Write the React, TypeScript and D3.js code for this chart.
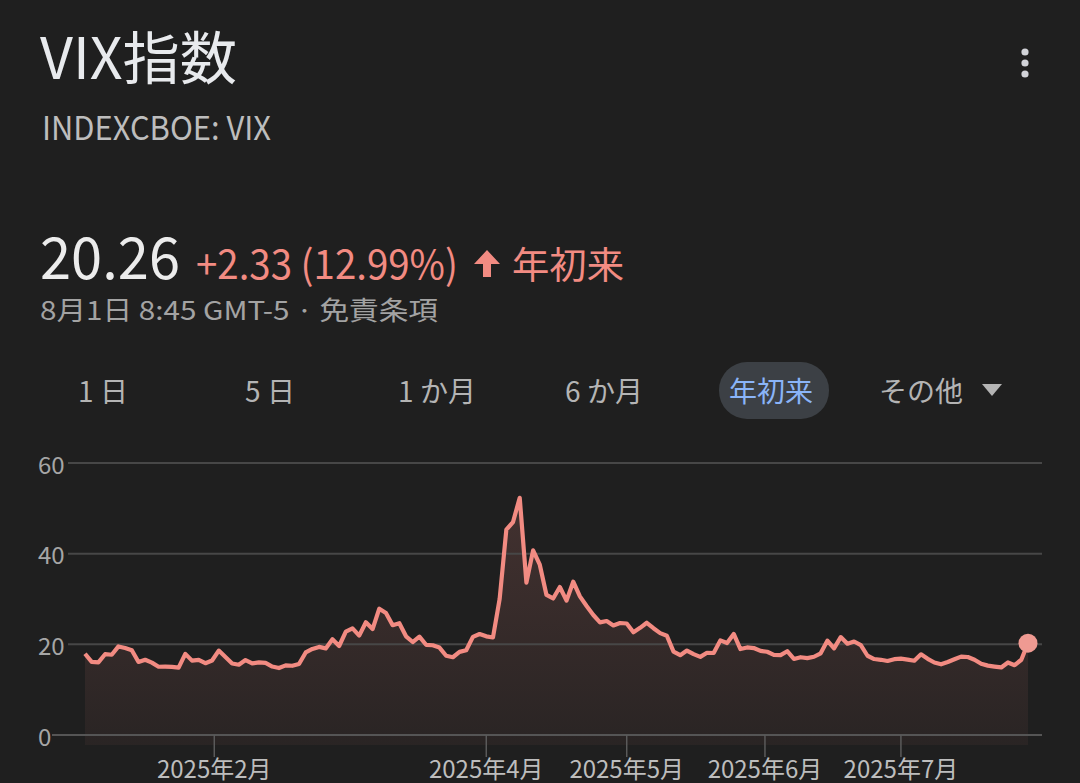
import * as d3 from 'd3';

// VIX daily closes, 2025 YTD
const janValues = [17.93, 16.13, 16.04, 17.82, 17.7, 19.54, 19.19, 18.71, 16.12, 16.6, 15.97, 15.06, 15.1, 15.02, 14.85, 17.9, 16.41, 16.56, 15.84, 16.43];
const febValues = [18.62, 17.21, 15.77, 15.5, 16.54, 15.81, 16.02, 15.89, 15.1, 14.77, 15.35, 15.27, 15.66, 18.21, 18.98, 19.43, 19.1, 21.13, 19.63];
const marValues = [22.78, 23.51, 21.93, 24.87, 23.37, 27.86, 26.92, 24.23, 24.66, 21.77, 20.51, 21.7, 19.9, 19.8, 19.28, 17.48, 17.15, 18.33, 18.69, 21.65, 22.28];
const aprValues = [21.77, 21.51, 30.02, 45.31, 46.98, 52.33, 33.62, 40.72, 37.56, 30.89, 30.12, 32.64, 29.65, 33.82, 30.57, 28.45, 26.47, 24.84, 25.15, 24.17, 24.7];
const mayValues = [24.6, 22.68, 23.64, 24.76, 23.55, 22.48, 21.9, 18.39, 17.61, 18.62, 17.83, 17.24, 18.14, 18.09, 20.87, 20.28, 22.29, 18.96, 19.31, 19.18, 18.57];
const junValues = [18.36, 17.69, 17.61, 18.48, 16.77, 17.16, 16.95, 17.26, 18.02, 20.82, 19.11, 21.6, 20.14, 20.62, 19.83, 17.48, 16.76, 16.59, 16.32, 16.73];
const julValues = [16.83, 16.64, 16.38, 17.79, 16.81, 16.0, 15.6, 16.1, 16.7, 17.3, 17.2, 16.6, 15.7, 15.3, 15.1, 14.9, 16.0, 15.4, 16.6, 20.26];

const values = [...janValues, ...febValues, ...marValues, ...aprValues, ...mayValues, ...junValues, ...julValues];

// month labels, positioned at (fractional) trading-day index of the 1st of the month
const monthLabels = ['2025年2月', '2025年4月', '2025年5月', '2025年6月', '2025年7月'];
const monthIndex = [19.33, 60, 81, 101.67, 122];

const yTicks = [0, 20, 40, 60];
const rangeTabs = ['1 日', '5 日', '1 か月', '6 か月', '年初来', 'その他'];
const activeTab = '年初来';

const FONT = "'Noto Sans CJK JP', 'Noto Sans', sans-serif";
const RED = '#f28b82';

export default function App() {
  const width = 1080;
  const height = 783;

  const x = d3.scaleLinear().domain([0, values.length - 1]).range([85, 1028]);
  const y = d3.scaleLinear().domain([0, 60]).range([735, 463]);

  const line = d3
    .line<number>()
    .x((_, i) => x(i))
    .y((d) => y(d));

  const area = d3
    .area<number>()
    .x((_, i) => x(i))
    .y0(745)
    .y1((d) => y(d));

  const last = values.length - 1;
  const tabX = d3.scaleLinear().domain([0, rangeTabs.length - 1]).range([106, 941]);

  return (
    <svg
      width={width}
      height={height}
      style={{ position: 'absolute', left: 0, top: 0, display: 'block', background: '#1f1f1f' }}
      fontFamily={FONT}
    >
      <defs>
        <linearGradient id="areaFill" gradientUnits="userSpaceOnUse" x1="0" x2="0" y1={y(52)} y2={745}>
          <stop offset="0%" stopColor={RED} stopOpacity={0.17} />
          <stop offset="100%" stopColor={RED} stopOpacity={0.05} />
        </linearGradient>
      </defs>
      <rect width={width} height={height} fill="#1f1f1f" />

      {/* header */}
      <text x={40} y={79} fontSize={57} fill="#e8eaed" textLength={197} lengthAdjust="spacingAndGlyphs">
        VIX指数
      </text>
      <text x={42} y={140} fontSize={33} fill="#bdbdbd" textLength={229} lengthAdjust="spacingAndGlyphs">
        INDEXCBOE: VIX
      </text>
      <g fill="#d2d3d8">
        {[52, 63, 74].map((cy) => (
          <circle key={cy} cx={1025} cy={cy} r={3.6} />
        ))}
      </g>

      {/* price */}
      <text x={40} y={279} fontSize={58} fill="#ececec" textLength={140} lengthAdjust="spacingAndGlyphs">
        20.26
      </text>
      <text x={196} y={279} fontSize={40} fill={RED} textLength={262} lengthAdjust="spacingAndGlyphs">
        +2.33 (12.99%)
      </text>
      <path d="M487,250 L474,264 L483,264 L483,277 L491,277 L491,264 L500,264 Z" fill={RED} />
      <text x={512} y={279} fontSize={37} fill={RED} textLength={112} lengthAdjust="spacingAndGlyphs">
        年初来
      </text>
      <text x={40} y={320} fontSize={26} fill="#a3a3a3" textLength={398} lengthAdjust="spacingAndGlyphs">
        8月1日 8:45 GMT-5 · 免責条項
      </text>

      {/* range tabs */}
      {rangeTabs.map((t, i) => {
        const cx = tabX(i);
        const active = t === activeTab;
        if (i === rangeTabs.length - 1) {
          return (
            <g key={t}>
              <text x={921} y={390} fontSize={28} fill="#b4b4b4" textAnchor="middle" dominantBaseline="central">
                {t}
              </text>
              <path d="M982,384 L1002,384 L992,396 Z" fill="#b4b4b4" />
            </g>
          );
        }
        return (
          <g key={t}>
            {active && <rect x={cx - 55} y={362} width={110} height={57} rx={28} fill="#3c4045" />}
            <text
              x={cx - 3}
              y={390}
              fontSize={28}
              fill={active ? '#8ab4f8' : '#b4b4b4'}
              textAnchor="middle"
              dominantBaseline="central"
            >
              {t}
            </text>
          </g>
        );
      })}

      {/* chart */}
      <path d={area(values) ?? ''} fill="url(#areaFill)" />

      {yTicks.map((t) => (
        <g key={t}>
          <line
            x1={t === 0 ? 52 : 68}
            x2={1042}
            y1={y(t)}
            y2={y(t)}
            stroke={t === 0 ? '#555' : '#474747'}
            strokeWidth={2}
          />
          <text x={38} y={y(t)} fontSize={24} fill="#a6a6a6" dominantBaseline="central">
            {t}
          </text>
        </g>
      ))}

      {monthLabels.map((m, i) => (
        <g key={m}>
          <line x1={x(monthIndex[i])} x2={x(monthIndex[i])} y1={y(0)} y2={757} stroke="#5a5a5a" strokeWidth={1.5} />
          <text x={x(monthIndex[i])} y={767} fontSize={24} fill="#bdbdbd" textAnchor="middle" dominantBaseline="central">
            {m}
          </text>
        </g>
      ))}

      <path d={line(values) ?? ''} fill="none" stroke={RED} strokeWidth={4.2} strokeLinejoin="round" />
      <circle cx={x(last)} cy={y(values[last])} r={9.5} fill="#ef9a92" />
    </svg>
  );
}
